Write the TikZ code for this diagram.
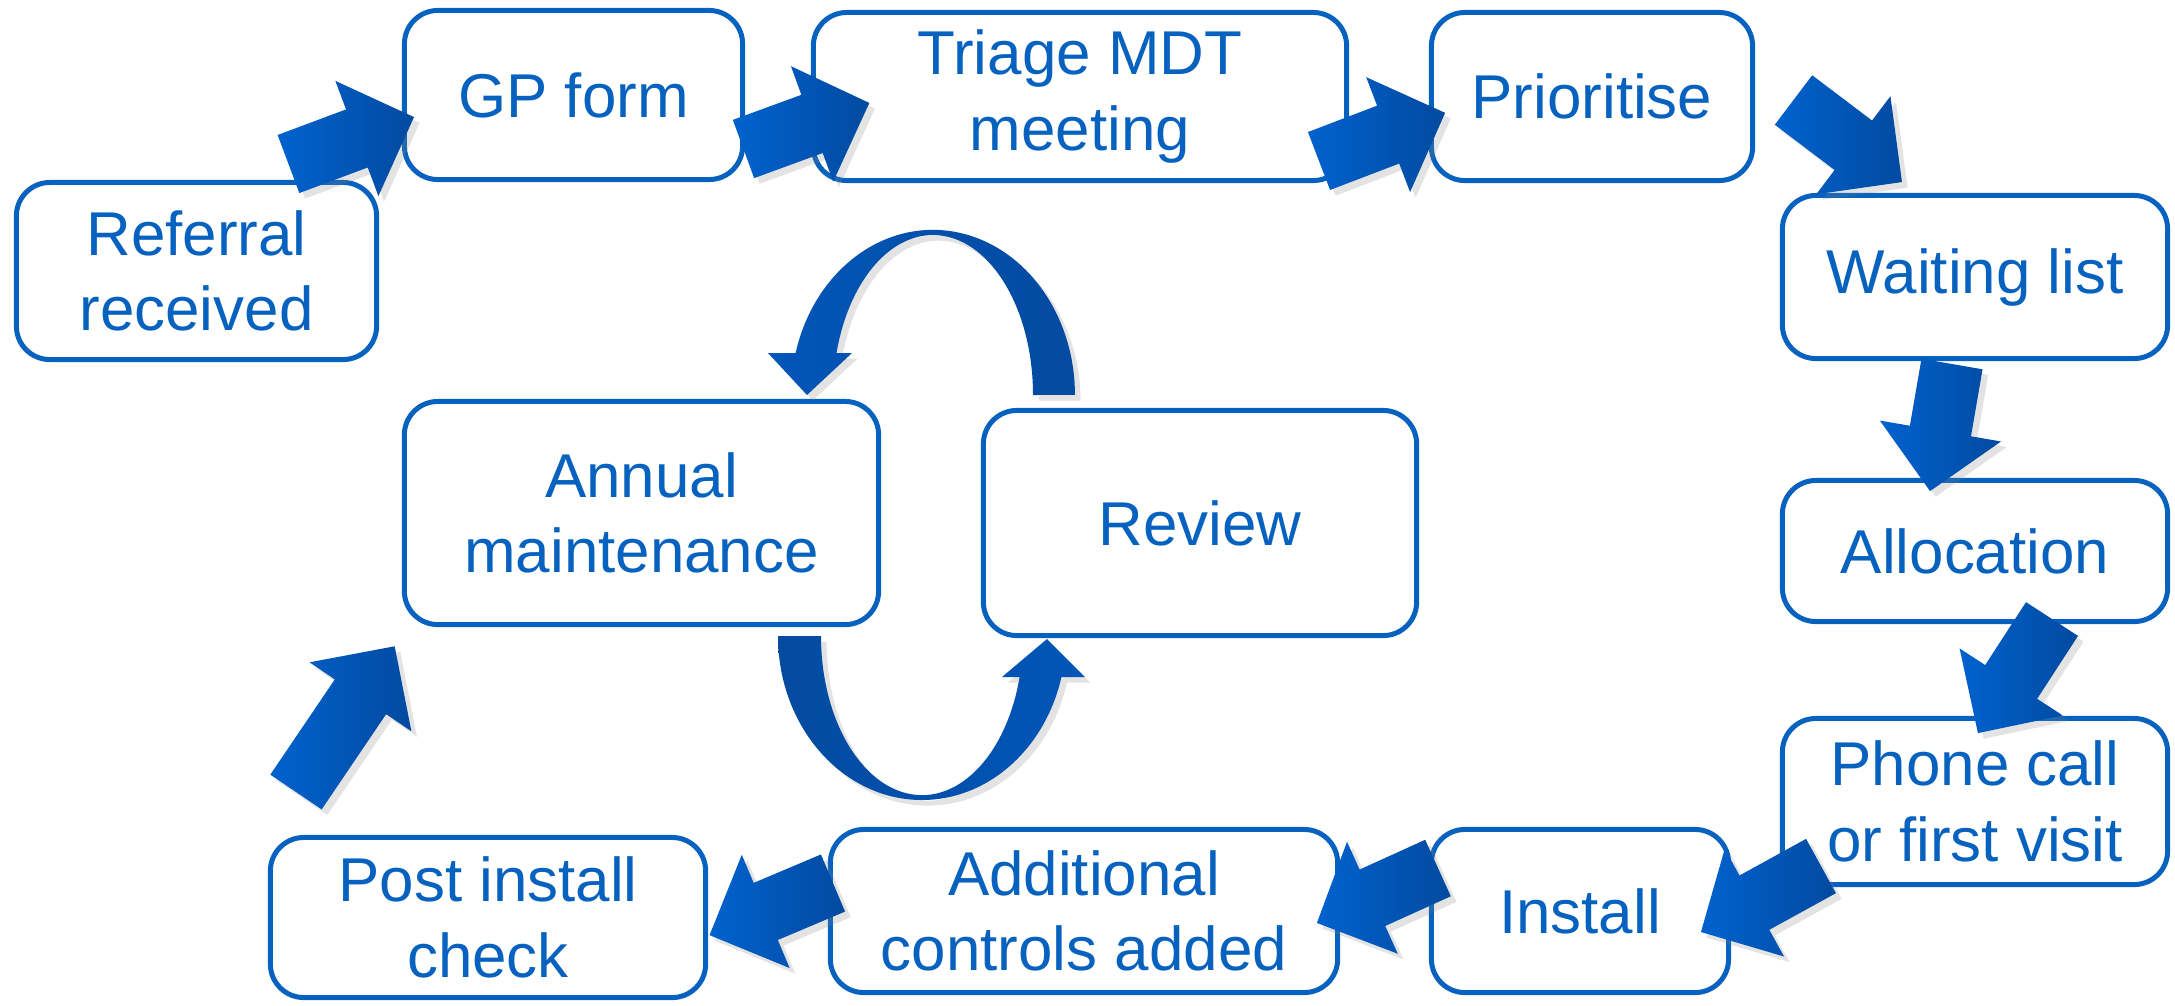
\documentclass[tikz,border=0pt]{standalone}
\usepackage{fontspec}
\setmainfont{Liberation Sans}
\usetikzlibrary{shadows}
\definecolor{boxblue}{RGB}{6,98,190}
\definecolor{arrlight}{RGB}{0,98,206}
\definecolor{arrdark}{RGB}{2,74,160}
\definecolor{looplight}{RGB}{2,86,184}
\definecolor{loopdark}{RGB}{3,74,160}
\tikzset{
  stage/.style={draw=boxblue, fill=white, line width=1.42pt, rounded corners=9.5pt,
    text=boxblue, align=center, inner sep=0pt,
    font=\fontsize{17.6}{21.5}\selectfont},
  softshadow/.style={drop shadow={opacity=0.22, shadow xshift=1.6pt, shadow yshift=-1.6pt}},
  barrowfill/.style={softshadow, left color=arrlight, right color=arrdark},
  loopfillA/.style={softshadow, left color=looplight, right color=loopdark},
  loopfillB/.style={softshadow, left color=loopdark, right color=looplight},
  pics/blockarrow/.style={code={
    \path[barrowfill] (0,31) -- (#1-61,31) -- (#1-61,61.5) -- (#1,0)
      -- (#1-61,-61.5) -- (#1-61,-31) -- (0,-31) -- cycle;
  }}
}
\begin{document}
\begin{tikzpicture}[x=0.01cm,y=-0.01cm]
\useasboundingbox (0,0) rectangle (2175,1005);

% stages
\node[stage, minimum width=3.60cm, minimum height=1.77cm] (ref)   at (196.5,271)  {Referral\\received};
\node[stage, minimum width=3.38cm, minimum height=1.69cm] (gp)    at (573.5,95)   {GP form};
\node[stage, minimum width=5.33cm, minimum height=1.68cm] (tri)   at (1080,96.5)  {Triage MDT\\meeting};
\node[stage, minimum width=3.21cm, minimum height=1.68cm] (pri)   at (1592,96.5)  {Prioritise};
\node[stage, minimum width=3.85cm, minimum height=1.63cm] (wait)  at (1975,277)   {Waiting list};
\node[stage, minimum width=3.85cm, minimum height=1.41cm] (alloc) at (1975,551)   {Allocation};
\node[stage, minimum width=3.85cm, minimum height=1.66cm] (phone) at (1975,801.5) {Phone call\\or first visit};
\node[stage, minimum width=2.97cm, minimum height=1.63cm] (inst)  at (1580,911)   {Install};
\node[stage, minimum width=5.07cm, minimum height=1.63cm] (add)   at (1084,911)   {Additional\\controls added};
\node[stage, minimum width=4.35cm, minimum height=1.60cm] (post)  at (488,917.5)  {Post install\\check};
\node[stage, minimum width=4.74cm, minimum height=2.23cm] (ann)   at (641.5,513)  {Annual\\maintenance};
\node[stage, minimum width=4.33cm, minimum height=2.25cm] (rev)   at (1200,523)   {Review};

% loop between Review and Annual maintenance (upper: Review -> Annual)
\path[loopfillA] (795.6,353)
  arc[start angle=194.7, end angle=360, x radius=142, y radius=165]
  -- (1033,395)
  arc[start angle=360, end angle=195.2, x radius=100, y radius=160]
  -- (852,353) -- (807,395) -- (768,353) -- cycle;

% lower: Annual -> Review
\path[loopfillB] (778,636)
  arc[start angle=180, end angle=14.5, x radius=144, y radius=164]
  -- (1085,677) -- (1047,639) -- (1002,677) -- (1019.6,677)
  arc[start angle=14.9, end angle=180, x radius=101, y radius=159]
  -- cycle;

% block arrows
\pic[rotate=20.5]  (a1)  at (288.5,164) {blockarrow=134};
\pic[rotate=20.1]  (a2)  at (743.5,149) {blockarrow=134};
\pic[rotate=20.9]  (a3)  at (1319,161)  {blockarrow=135};
\pic[rotate=-37.1] (a4)  at (1793.5,100) {blockarrow=136};
\pic[rotate=-99.8] (a5)  at (1952,364)  {blockarrow=129};
\pic[rotate=-123]  (a6)  at (2052,619)  {blockarrow=136};
\pic[rotate=-151.2] (a7) at (1821,866)  {blockarrow=137};
\pic[rotate=-155.6] (a8) at (1438,868)  {blockarrow=133};
\pic[rotate=-157.1] (a9) at (833,883)   {blockarrow=134};
\pic[rotate=55.9]  (a10) at (296,792)   {blockarrow=176};
\end{tikzpicture}
\end{document}
